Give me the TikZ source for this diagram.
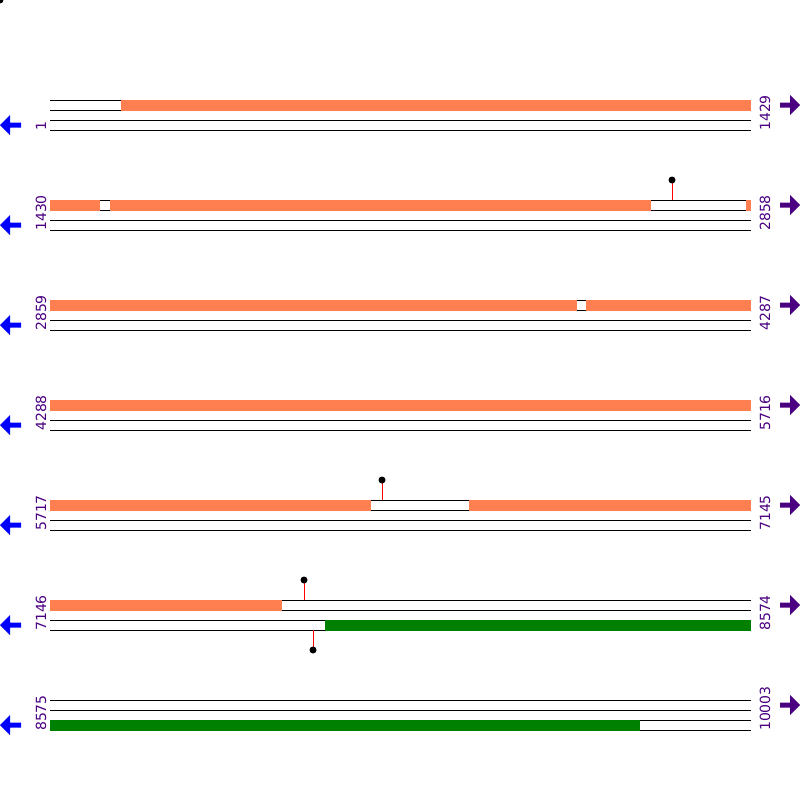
\documentclass[tikz,border=0pt]{standalone}
\usepackage{fontspec}
\setmainfont{DejaVu Sans}
\definecolor{cdscolor}{HTML}{FF7F50}
\definecolor{genecolor}{HTML}{008000}
\definecolor{poscolor}{HTML}{4B0082}

\begin{document}
\begin{tikzpicture}[x=1pt,y=-1pt]
    \tikzstyle{strand}=[draw=black,line width=1pt]
    \tikzstyle{cds}=[fill=cdscolor]
    \tikzstyle{gene}=[fill=genecolor]
    \tikzstyle{pos label}=[text=poscolor,font=\fontsize{14}{14}\selectfont,rotate=90,inner sep=0pt,anchor=base west]
    \tikzstyle{site}=[draw=red,line width=1pt]
    \tikzstyle{site dot}=[fill=black]
    \tikzstyle{rev arrow}=[fill=blue]
    \tikzstyle{fwd arrow}=[fill=poscolor]

    \useasboundingbox (0,0) rectangle (800,800);
    \clip (0,0) rectangle (800,800);
    \fill[site dot] (0,0) circle (3.5);

    % Draw the two strands of every row, with its positions and arrows
    \foreach \y/\lft/\rgt [count=\i] in {100/1/1429, 200/1430/2858, 300/2859/4287,
        400/4288/5716, 500/5717/7145, 600/7146/8574, 700/8575/10003}
    {
        \foreach \dy in {0,10,20,30}
            \draw[strand] (50,\y+\dy) -- (751,\y+\dy);
        \node[pos label] (start-\i) at (46,\y+31) {\lft};
        \node[pos label] (end-\i) at (770,\y+31) {\rgt};
        \fill[rev arrow] (0,\y+25) -- (10,\y+15) -- (10,\y+22.5) -- (21,\y+22.5)
            -- (21,\y+27.5) -- (10,\y+27.5) -- (10,\y+35) -- cycle;
        \fill[fwd arrow] (800,\y+5) -- (790,\y-5) -- (790,\y+2.5) -- (780,\y+2.5)
            -- (780,\y+7.5) -- (790,\y+7.5) -- (790,\y+15) -- cycle;
    }

    % Features on the forward strand
    \foreach \x/\xx/\y in {121/751/100, 50/100/200, 110/651/200, 746/751/200,
        50/577/300, 586/751/300, 50/751/400, 50/371/500, 469/751/500, 50/282/600}
        \fill[cds] (\x,\y-0.5) rectangle (\xx,\y+10.5);

    % Features on the reverse strand
    \foreach \x/\xx/\y in {325/751/620, 50/640/720}
        \fill[gene] (\x,\y-0.5) rectangle (\xx,\y+10.5);

    % Sites
    \foreach \x/\y/\yy in {672/200/180, 382/500/480, 304/600/580, 313/630/650}
    {
        \draw[site] (\x,\y) -- (\x,\yy);
        \fill[site dot] (\x,\yy) circle (3.5);
    }
\end{tikzpicture}
\end{document}
